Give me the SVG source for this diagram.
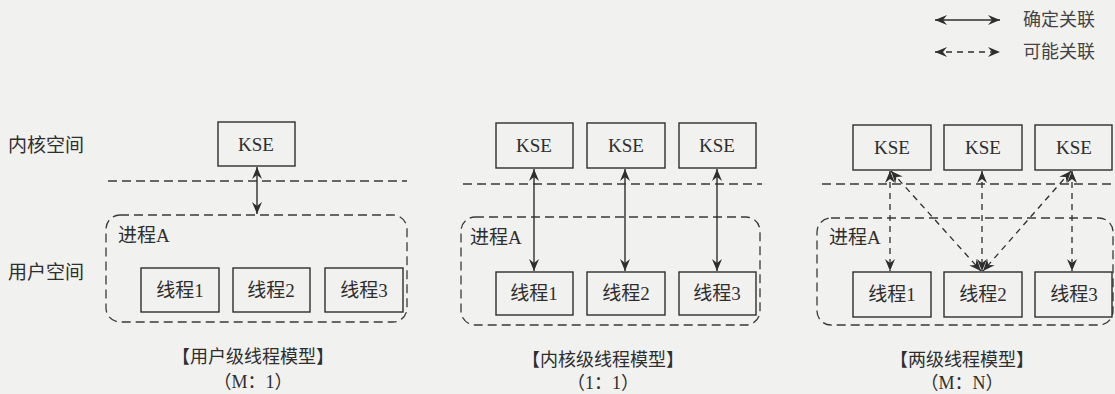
<svg xmlns="http://www.w3.org/2000/svg" width="1115" height="394" viewBox="0 0 1115 394">
<style>
text{font-family:"Liberation Serif","Noto Sans CJK SC",serif;fill:#2e2e2e}
.lbl{font-size:19px}
.box{fill:none;stroke:#2e2e2e;stroke-width:1.4}
.t{font-size:19px;text-anchor:middle}
.proc{fill:none;stroke:#3a3a3a;stroke-width:1.3;stroke-dasharray:9 5}
.sep{fill:none;stroke:#3a3a3a;stroke-width:1.3;stroke-dasharray:9 5}
.sol{fill:none;stroke:#2e2e2e;stroke-width:1.4;marker-start:url(#ah);marker-end:url(#ah)}
.dsh{fill:none;stroke:#2e2e2e;stroke-width:1.3;stroke-dasharray:6 5;marker-start:url(#ah);marker-end:url(#ah)}
.cap{font-size:18px;text-anchor:middle}
.leg{font-size:18px;fill:#444}
</style>
<defs>
<marker id="ah" viewBox="0 0 12 12" refX="12" refY="6" markerWidth="12" markerHeight="12" markerUnits="userSpaceOnUse" orient="auto-start-reverse">
<path d="M0,1 L12,6 L0,11 L4,6 z" fill="#2e2e2e"/>
</marker>
</defs>
<rect x="0" y="0" width="1115" height="394" fill="#f1f1f0"/>

<g id="legend">
<line class="sol" x1="935" y1="20" x2="1000" y2="20"/>
<text class="leg" x="1023" y="26">确定关联</text>
<line class="dsh" x1="935" y1="52" x2="1000" y2="52"/>
<text class="leg" x="1023" y="58">可能关联</text>
</g>

<g id="space-labels">
<text class="lbl" x="8" y="152">内核空间</text>
<text class="lbl" x="8" y="279">用户空间</text>
</g>

<g id="separators">
<line class="sep" x1="108" y1="181" x2="407" y2="181"/>
<line class="sep" x1="463" y1="184" x2="762" y2="184"/>
<line class="sep" x1="822" y1="184" x2="1115" y2="184"/>
</g>

<!-- Panel 1 -->
<g id="p1-process">
<rect class="proc" x="106" y="215" width="301" height="107" rx="14"/>
<text class="lbl" x="118" y="242">进程A</text>
</g>
<g id="p1-kse"><rect class="box" x="218" y="122" width="77" height="44"/><text class="t" x="256" y="151">KSE</text></g>
<g id="p1-t1"><rect class="box" x="141" y="268" width="78" height="44"/><text class="t" x="180" y="297">线程1</text></g>
<g id="p1-t2"><rect class="box" x="233" y="268" width="77" height="44"/><text class="t" x="271" y="297">线程2</text></g>
<g id="p1-t3"><rect class="box" x="325" y="268" width="78" height="44"/><text class="t" x="364" y="297">线程3</text></g>
<g id="p1-caption">
<text class="cap" x="253" y="363">【用户级线程模型】</text>
<text class="cap" x="253" y="388">（M：1）</text>
</g>

<!-- Panel 2 -->
<g id="p2-process">
<rect class="proc" x="461" y="217" width="299" height="108" rx="14"/>
<text class="lbl" x="470" y="244">进程A</text>
</g>
<g id="p2-kse1"><rect class="box" x="496" y="123" width="77" height="45"/><text class="t" x="534" y="152">KSE</text></g>
<g id="p2-kse2"><rect class="box" x="587" y="123" width="78" height="45"/><text class="t" x="626" y="152">KSE</text></g>
<g id="p2-kse3"><rect class="box" x="679" y="123" width="77" height="45"/><text class="t" x="717" y="152">KSE</text></g>
<g id="p2-t1"><rect class="box" x="496" y="272" width="77" height="43"/><text class="t" x="534" y="300">线程1</text></g>
<g id="p2-t2"><rect class="box" x="587" y="272" width="78" height="43"/><text class="t" x="626" y="300">线程2</text></g>
<g id="p2-t3"><rect class="box" x="679" y="272" width="77" height="43"/><text class="t" x="717" y="300">线程3</text></g>
<g id="p2-caption">
<text class="cap" x="603" y="366">【内核级线程模型】</text>
<text class="cap" x="603" y="389">（1：1）</text>
</g>

<!-- Panel 3 -->
<g id="p3-process">
<rect class="proc" x="817" y="218" width="296" height="107" rx="14"/>
<text class="lbl" x="829" y="244">进程A</text>
</g>
<g id="p3-kse1"><rect class="box" x="853" y="125" width="78" height="45"/><text class="t" x="892" y="154">KSE</text></g>
<g id="p3-kse2"><rect class="box" x="944" y="125" width="78" height="45"/><text class="t" x="983" y="154">KSE</text></g>
<g id="p3-kse3"><rect class="box" x="1035" y="125" width="77" height="45"/><text class="t" x="1074" y="154">KSE</text></g>
<g id="p3-t1"><rect class="box" x="853" y="272" width="78" height="45"/><text class="t" x="892" y="301">线程1</text></g>
<g id="p3-t2"><rect class="box" x="944" y="272" width="78" height="45"/><text class="t" x="983" y="301">线程2</text></g>
<g id="p3-t3"><rect class="box" x="1035" y="272" width="77" height="45"/><text class="t" x="1074" y="301">线程3</text></g>
<g id="p3-caption">
<text class="cap" x="962" y="366">【两级线程模型】</text>
<text class="cap" x="962" y="389">（M：N）</text>
</g>

<g id="connectors">
<line class="sol" x1="257" y1="167" x2="257" y2="214"/>
<line class="sol" x1="534" y1="169" x2="534" y2="271"/>
<line class="sol" x1="625" y1="169" x2="625" y2="271"/>
<line class="sol" x1="717" y1="169" x2="717" y2="271"/>
<line class="dsh" x1="890" y1="171" x2="890" y2="271"/>
<line class="dsh" x1="982" y1="171" x2="982" y2="271"/>
<line class="dsh" x1="1072" y1="171" x2="1072" y2="271"/>
<line class="dsh" x1="891" y1="171" x2="981" y2="271"/>
<line class="dsh" x1="1071" y1="171" x2="983" y2="271"/>
</g>
</svg>
